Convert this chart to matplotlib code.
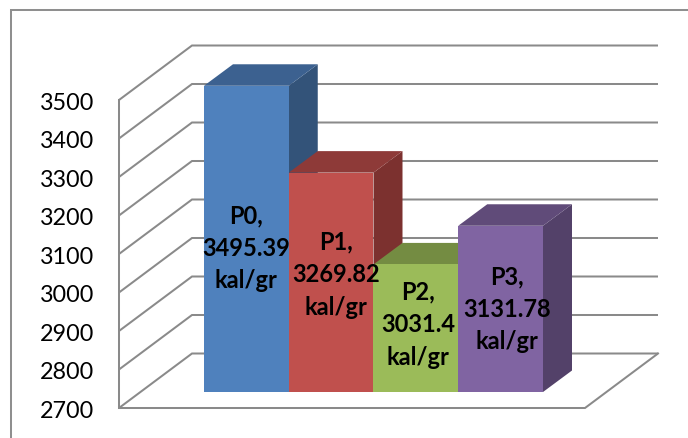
import matplotlib
matplotlib.use("Agg")
import matplotlib.pyplot as plt
from matplotlib.patches import Polygon

categories = ["P0", "P1", "P2", "P3"]
values = [3495.39, 3269.82, 3031.4, 3131.78]
value_labels = ["3495.39", "3269.82", "3031.4", "3131.78"]
unit = "kal/gr"
y_ticks = [2700, 2800, 2900, 3000, 3100, 3200, 3300, 3400, 3500]
front_colors = ["#4f81bd", "#c0504d", "#9bbb59", "#8064a2"]
top_colors = ["#3c6190", "#8e3a38", "#748c42", "#604b79"]
side_colors = ["#335379", "#7c312f", "#67803b", "#534169"]

W, H = 688, 438
PX_PER_CAT = 84.75      # pixels per category
PX_PER_VAL = 0.385      # pixels per kal/gr
BAR_L_PX, BASE_PX = 204.0, 392.0

fig = plt.figure(figsize=(W / 100, H / 100), dpi=100, facecolor="white")
ax = fig.add_axes([0, 0, 1, 1])
ax.set_xlim(-0.5 - BAR_L_PX / PX_PER_CAT, -0.5 + (W - BAR_L_PX) / PX_PER_CAT)
ax.set_ylim(y_ticks[0] - (H - BASE_PX) / PX_PER_VAL, y_ticks[0] + BASE_PX / PX_PER_VAL)
ax.axis("off")

def dx(px):
    return px / PX_PER_CAT

def dy(px):
    return px / PX_PER_VAL

GRID = "#8a8a8a"
LW = 1.45
FONT = "Lato"
# floor / wall geometry, expressed as offsets from the bar plane
wall_x = -0.5 - dx(204 - 119)
floor_w = dx(585 - 119)
depth_x, depth_y = dx(73), dy(54.5)
front_shift = dy(16)

for t in y_ticks:
    yf = t - front_shift
    ax.plot([wall_x, wall_x + depth_x, wall_x + depth_x + floor_w],
            [yf, yf + depth_y, yf + depth_y], color=GRID, lw=LW,
            solid_capstyle="butt", solid_joinstyle="miter", zorder=1)
    ax.text(-0.5 - dx(204 - 94.5), yf - dy(1), str(t), ha="right", va="center_baseline",
            fontsize=16.8, family=FONT, color="black", zorder=20)

y0 = y_ticks[0] - front_shift
ax.plot([wall_x, wall_x], [y0, y_ticks[-1] - front_shift], color=GRID, lw=LW, zorder=1)
ax.plot([wall_x, wall_x + floor_w, wall_x + floor_w + depth_x],
        [y0, y0, y0 + depth_y], color=GRID, lw=LW, solid_joinstyle="miter", zorder=1)

# outer chart frame
ax.plot([-0.5 - dx(204 - 10.5), -0.5 - dx(204 - 10.5), -0.5 + dx(W - 204)],
        [y_ticks[0] - dy(H - BASE_PX), y_ticks[0] + dy(BASE_PX - 9.5), y_ticks[0] + dy(BASE_PX - 9.5)],
        color="#8f8f8f", lw=LW, solid_joinstyle="miter", zorder=1)

# bars
bar_dx, bar_dy = dx(29), dy(21.5)
label_off_x = [0, 5, 2, 6.5]
label_off_y = [9.5, -7.5, -3.5, 0.5]
for i, (v, fc, tc, sc) in enumerate(zip(values, front_colors, top_colors, side_colors)):
    z = 3 + i * 2
    l, r = i - 0.5, i + 0.5
    b = y_ticks[0]
    ax.add_patch(Polygon([(r, b), (r + bar_dx, b + bar_dy), (r + bar_dx, v + bar_dy), (r, v)],
                         closed=True, fc=sc, ec="none", zorder=z))
    ax.add_patch(Polygon([(l, v), (l + bar_dx, v + bar_dy), (r + bar_dx, v + bar_dy), (r, v)],
                         closed=True, fc=tc, ec="none", zorder=z))
    ax.bar(i, v - b, bottom=b, width=1.0, color=fc, linewidth=0, zorder=z + 1)
    ax.text(i + dx(label_off_x[i]), (b + v) / 2 - dy(label_off_y[i]),
            f"{categories[i]},\n{value_labels[i]}\n{unit}", ha="center", va="center",
            fontsize=17, fontweight="bold", family=FONT, color="black",
            linespacing=1.5, zorder=20)

fig.savefig("out.png", dpi=100, facecolor="white")
